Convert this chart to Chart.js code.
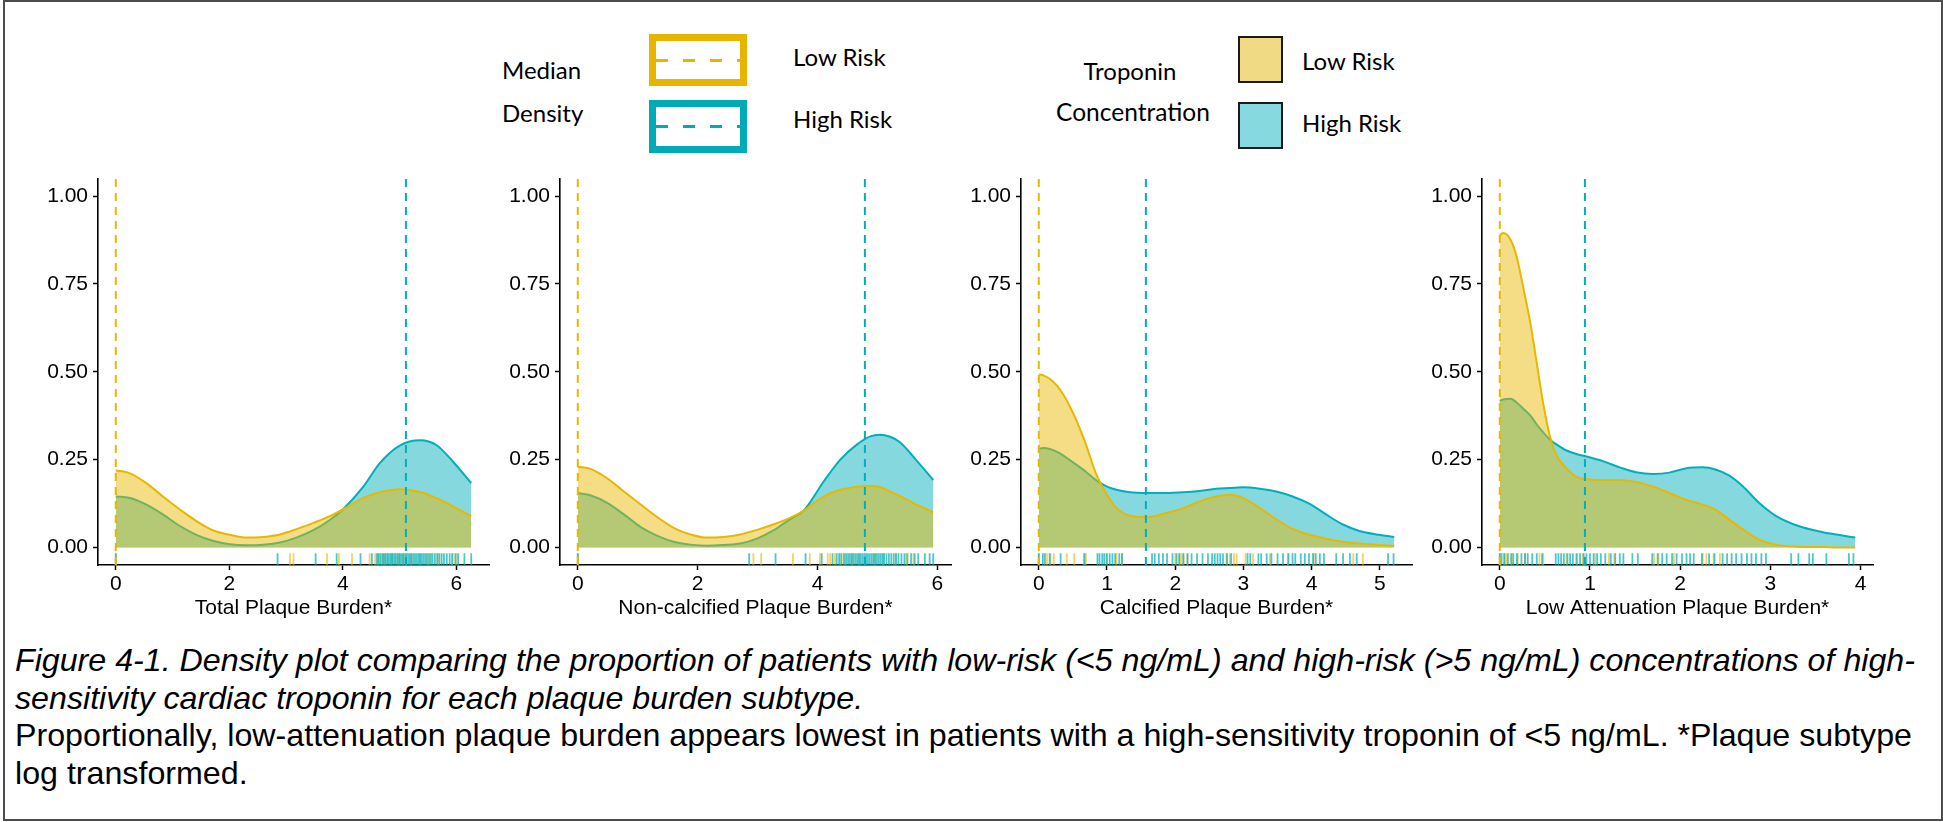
<!DOCTYPE html>
<html>
<head>
<meta charset="utf-8">
<script src="https://cdn.jsdelivr.net/npm/chart.js@4.4.1/dist/chart.umd.min.js"></script>
<style>
  html, body { margin: 0; padding: 0; background: #fff; }
  #page { position: relative; width: 1943px; height: 822px; overflow: hidden; background: #fff; }
  #frame { position: absolute; left: 3px; top: 0; width: 1940px; height: 821px; border: 2px solid #4d4d4d; box-sizing: border-box; }
  .panel { position: absolute; }
  .lg { position: absolute; font-family: Lato, "Open Sans", sans-serif; font-size: 24px; line-height: 30px; color: #000; white-space: nowrap; }
  .box { position: absolute; box-sizing: border-box; }
  .dash { position: absolute; left: 0; right: 0; height: 3px; top: calc(50% - 1.5px); }
  .cap { position: absolute; left: 15px; font-family: "Liberation Sans", Arial, sans-serif; font-size: 32.2px; line-height: 37.5px; white-space: nowrap; color: #000; }
</style>
</head>
<body>
<div id="page">
  <div id="frame"></div>

  <!-- legend: median lines -->
  <div class="lg" style="left:502px; top:55px;">Median</div>
  <div class="lg" style="left:502px; top:98px;">Density</div>
  <div class="box" style="left:649px; top:34px; width:98px; height:52px; border:7px solid #E8B400;">
    <div class="dash" style="background: repeating-linear-gradient(90deg, #E8B400 0 12px, transparent 12px 27px);"></div>
  </div>
  <div class="box" style="left:649px; top:100px; width:98px; height:53px; border:7px solid #00AAB6;">
    <div class="dash" style="background: repeating-linear-gradient(90deg, #00AAB6 0 12px, transparent 12px 27px);"></div>
  </div>
  <div class="lg" style="left:793px; top:42px;">Low Risk</div>
  <div class="lg" style="left:793px; top:104px;">High Risk</div>

  <!-- legend: troponin fills -->
  <div class="lg" style="left:1030px; width:200px; text-align:center; top:56px;">Troponin</div>
  <div class="lg" style="left:1033px; width:200px; text-align:center; top:97px; font-size:24.5px;">Concentration</div>
  <div class="box" style="left:1238px; top:36px; width:45px; height:47px; border:2.5px solid #1a1a1a; background:#F0DA84;"></div>
  <div class="box" style="left:1238px; top:102px; width:45px; height:47px; border:2.5px solid #1a1a1a; background:#86D9DE;"></div>
  <div class="lg" style="left:1302px; top:46px;">Low Risk</div>
  <div class="lg" style="left:1302px; top:108px;">High Risk</div>

  <canvas class="panel" id="c0"></canvas>
  <canvas class="panel" id="c1"></canvas>
  <canvas class="panel" id="c2"></canvas>
  <canvas class="panel" id="c3"></canvas>

  <div class="cap" style="top:642px; font-style:italic;">Figure 4-1. Density plot comparing the proportion of patients with low-risk (&lt;5 ng/mL) and high-risk (&gt;5 ng/mL) concentrations of high-</div>
  <div class="cap" style="top:680px; font-style:italic;">sensitivity cardiac troponin for each plaque burden subtype.</div>
  <div class="cap" style="top:717px;">Proportionally, low-attenuation plaque burden appears lowest in patients with a high-sensitivity troponin of &lt;5 ng/mL. *Plaque subtype</div>
  <div class="cap" style="top:755px;">log transformed.</div>
</div>

<script>
// ---------- shared axis values ----------
const yTicks = [0, 0.25, 0.5, 0.75, 1];
const yRange = [-0.05, 1.05];

// ---------- Total plaque burden ----------
const totalTitle = "Total Plaque Burden*";
const totalTicks = [0, 2, 4, 6];
const totalX    = [0, 0.25, 0.54, 0.83, 1.13, 1.42, 1.71, 2.01, 2.30, 2.60, 2.89, 3.18, 3.48, 3.77, 4.00, 4.36, 4.65, 5.00, 5.36, 5.65, 5.94, 6.26];
const totalLow  = [0.220, 0.211, 0.183, 0.145, 0.108, 0.075, 0.049, 0.036, 0.028, 0.030, 0.037, 0.052, 0.070, 0.089, 0.108, 0.141, 0.157, 0.166, 0.158, 0.140, 0.117, 0.089];
const totalHigh = [0.145, 0.141, 0.122, 0.094, 0.061, 0.036, 0.019, 0.009, 0.006, 0.0075, 0.014, 0.028, 0.049, 0.078, 0.108, 0.173, 0.240, 0.290, 0.305, 0.291, 0.244, 0.183];
const totalMedians = [0, 5.11];
const totalRugLow  = [0, 3.07, 3.13, 3.72, 3.93, 4.16, 4.47, 4.57, 4.62, 4.68, 4.74, 4.85, 4.97, 5.06, 5.20, 5.35, 5.50, 5.68, 5.92, 6.00];
const totalRugHigh = [0, 2.85, 3.52, 3.89, 4.31, 4.51, 4.60, 4.63, 4.66, 4.70, 4.72, 4.75, 4.78, 4.80, 4.83, 4.86, 4.88, 4.91, 4.93, 4.96, 4.99, 5.01, 5.04, 5.07, 5.10, 5.12, 5.15, 5.18, 5.21, 5.24, 5.27, 5.30, 5.33, 5.36, 5.39, 5.42, 5.45, 5.48, 5.52, 5.55, 5.58, 5.62, 5.66, 5.70, 5.74, 5.78, 5.83, 5.88, 5.93, 5.98, 6.03, 6.14, 6.26];

// ---------- Non-calcified plaque burden ----------
const nonCalcTitle = "Non-calcified Plaque Burden*";
const nonCalcTicks = [0, 2, 4, 6];
const nonCalcX    = [0, 0.22, 0.49, 0.77, 1.05, 1.33, 1.60, 1.88, 2.16, 2.43, 2.71, 2.99, 3.27, 3.54, 3.77, 4.10, 4.38, 4.65, 4.88, 5.04, 5.21, 5.37, 5.65, 5.93];
const nonCalcLow  = [0.230, 0.223, 0.197, 0.159, 0.122, 0.086, 0.056, 0.037, 0.028, 0.030, 0.037, 0.050, 0.066, 0.084, 0.105, 0.145, 0.164, 0.173, 0.175, 0.172, 0.159, 0.147, 0.122, 0.100];
const nonCalcHigh = [0.155, 0.148, 0.127, 0.094, 0.058, 0.033, 0.016, 0.008, 0.005, 0.007, 0.011, 0.025, 0.049, 0.080, 0.105, 0.187, 0.250, 0.292, 0.316, 0.321, 0.315, 0.300, 0.248, 0.192];
const nonCalcMedians = [0, 4.79];
const nonCalcRugLow  = [0, 2.93, 3.06, 3.59, 3.87, 4.04, 4.17, 4.21, 4.29, 4.38, 4.46, 4.58, 4.70, 4.95, 5.10, 5.30, 5.48, 5.60];
const nonCalcRugHigh = [0, 2.86, 3.30, 3.80, 4.07, 4.25, 4.32, 4.36, 4.40, 4.44, 4.48, 4.51, 4.54, 4.57, 4.60, 4.63, 4.66, 4.69, 4.72, 4.75, 4.78, 4.81, 4.84, 4.87, 4.90, 4.93, 4.96, 4.99, 5.02, 5.05, 5.08, 5.11, 5.15, 5.19, 5.23, 5.27, 5.31, 5.35, 5.40, 5.45, 5.50, 5.56, 5.62, 5.68, 5.79, 5.87, 5.93];

// ---------- Calcified plaque burden ----------
const calcTitle = "Calcified Plaque Burden*";
const calcTicks = [0, 1, 2, 3, 4, 5];
const calcX    = [0, 0.07, 0.27, 0.46, 0.66, 0.85, 1.00, 1.14, 1.34, 1.58, 1.87, 2.12, 2.36, 2.60, 2.80, 2.99, 3.24, 3.48, 3.72, 3.97, 4.21, 4.45, 4.70, 4.99, 5.21];
const calcLow  = [0.492, 0.490, 0.460, 0.400, 0.310, 0.205, 0.150, 0.112, 0.090, 0.086, 0.098, 0.112, 0.131, 0.145, 0.150, 0.141, 0.112, 0.080, 0.053, 0.036, 0.025, 0.016, 0.011, 0.007, 0.005];
const calcHigh = [0.281, 0.283, 0.272, 0.248, 0.220, 0.190, 0.173, 0.164, 0.157, 0.155, 0.155, 0.157, 0.161, 0.167, 0.169, 0.171, 0.167, 0.159, 0.145, 0.124, 0.094, 0.066, 0.047, 0.036, 0.030];
const calcMedians = [0, 1.57];
const calcRugLow  = [0, 0.12, 0.17, 0.22, 0.41, 0.52, 0.66, 0.69, 0.99, 1.14, 1.22, 2.00, 2.06, 2.09, 2.12, 2.18, 2.75, 2.80, 2.86, 2.90, 3.03, 3.14, 3.39, 3.65, 4.03, 4.61, 4.75];
const calcRugHigh = [0, 0.06, 0.09, 0.16, 0.32, 0.67, 0.86, 0.89, 0.93, 0.96, 1.00, 1.04, 1.08, 1.12, 1.18, 1.22, 1.66, 1.70, 1.76, 1.82, 1.88, 1.96, 2.02, 2.06, 2.12, 2.18, 2.24, 2.32, 2.40, 2.48, 2.54, 2.58, 2.62, 2.66, 2.70, 2.76, 2.82, 3.06, 3.10, 3.22, 3.26, 3.34, 3.41, 3.50, 3.58, 3.66, 3.72, 3.76, 3.84, 3.90, 3.96, 4.02, 4.06, 4.12, 4.18, 4.36, 4.46, 4.56, 4.66, 5.12, 5.20];

// ---------- Low attenuation plaque burden ----------
const lowAttTitle = "Low Attenuation Plaque Burden*";
const lowAttTicks = [0, 1, 2, 3, 4];
const lowAttX    = [0, 0.04, 0.12, 0.19, 0.26, 0.34, 0.41, 0.48, 0.56, 0.63, 0.74, 0.85, 0.96, 1.15, 1.33, 1.51, 1.70, 1.88, 2.06, 2.25, 2.39, 2.54, 2.69, 2.87, 3.06, 3.31, 3.57, 3.75, 3.94];
const lowAttLow  = [0.890, 0.895, 0.876, 0.825, 0.740, 0.637, 0.525, 0.412, 0.312, 0.262, 0.225, 0.201, 0.194, 0.192, 0.192, 0.186, 0.173, 0.155, 0.136, 0.122, 0.108, 0.080, 0.052, 0.023, 0.008, 0.002, 0.001, 0.0, 0.0];
const lowAttHigh = [0.417, 0.421, 0.423, 0.412, 0.395, 0.375, 0.350, 0.328, 0.306, 0.293, 0.276, 0.266, 0.259, 0.245, 0.228, 0.214, 0.209, 0.213, 0.225, 0.228, 0.222, 0.205, 0.175, 0.128, 0.090, 0.061, 0.044, 0.036, 0.028];
const lowAttMedians = [0, 0.944];
const lowAttRugLow  = [0, 0.05, 0.07, 0.12, 0.20, 0.28, 0.44, 0.48, 0.74, 0.86, 0.92, 1.06, 1.21, 1.27, 1.71, 1.76, 1.93, 2.25, 2.29, 2.37, 2.44];
const lowAttRugHigh = [0, 0.02, 0.05, 0.09, 0.13, 0.15, 0.19, 0.24, 0.28, 0.31, 0.36, 0.41, 0.47, 0.62, 0.65, 0.68, 0.71, 0.75, 0.78, 0.81, 0.85, 0.89, 0.93, 0.96, 1.00, 1.04, 1.08, 1.12, 1.17, 1.23, 1.28, 1.33, 1.37, 1.47, 1.53, 1.69, 1.75, 1.80, 1.85, 1.91, 1.96, 2.02, 2.07, 2.11, 2.15, 2.24, 2.32, 2.38, 2.47, 2.52, 2.57, 2.62, 2.68, 2.74, 2.79, 2.84, 2.90, 2.95, 3.23, 3.31, 3.43, 3.47, 3.62, 3.87, 3.92];

// ---------- styling ----------
const LOW_LINE = "#E7B800", HIGH_LINE = "#00AFBB";
const LOW_FILL = "rgba(231,184,0,0.48)", HIGH_FILL = "rgba(0,175,187,0.48)";
const LOW_RUG = "rgba(231,184,0,0.6)", HIGH_RUG = "rgba(0,175,187,0.7)";
const FONT = "'Liberation Sans', Arial, sans-serif";
const TICK_SIZE = 21;

// plot-area geometry (px)
const AREA_TOP = 173, AREA_H = 392, AREA_W = 391;
const AREA_LEFTS = [98, 560, 1021, 1482];
const Y_AXIS_W = 90, X_AXIS_H = 60, PAD_TOP = 12, PAD_RIGHT = 14;

const panels = [
  { title: totalTitle,   ticks: totalTicks,   x: totalX,   low: totalLow,   high: totalHigh,   med: totalMedians,   rugLow: totalRugLow,   rugHigh: totalRugHigh },
  { title: nonCalcTitle, ticks: nonCalcTicks, x: nonCalcX, low: nonCalcLow, high: nonCalcHigh, med: nonCalcMedians, rugLow: nonCalcRugLow, rugHigh: nonCalcRugHigh },
  { title: calcTitle,    ticks: calcTicks,    x: calcX,    low: calcLow,    high: calcHigh,    med: calcMedians,    rugLow: calcRugLow,    rugHigh: calcRugHigh },
  { title: lowAttTitle,  ticks: lowAttTicks,  x: lowAttX,  low: lowAttLow,  high: lowAttHigh,  med: lowAttMedians,  rugLow: lowAttRugLow,  rugHigh: lowAttRugHigh }
];

// rug marks sit along the bottom 3% of the panel
const rugY = yRange[0] + 0.015 * (yRange[1] - yRange[0]);
const rugRadius = 0.015 * AREA_H;

function pts(xs, ys) { return xs.map((x, i) => ({ x: x, y: ys[i] })); }
function rug(xs) { return xs.map(x => ({ x: x, y: rugY })); }
function vline(x) { return [{ x: x, y: yRange[0] }, { x: x, y: yRange[1] }]; }

function density(data, line, fill, order) {
  return { type: 'line', data: data, borderColor: line, backgroundColor: fill, borderWidth: 2,
           fill: 'origin', pointRadius: 0, cubicInterpolationMode: 'monotone', order: order };
}
function rugSet(data, color, order) {
  return { type: 'scatter', data: data, showLine: false, pointStyle: 'line', pointRotation: 90,
           pointRadius: rugRadius, pointBorderWidth: 1.8, pointBorderColor: color,
           pointBackgroundColor: color, order: order };
}
function medianSet(x, color, order) {
  return { type: 'line', data: vline(x), borderColor: color, borderWidth: 2, borderDash: [8, 6],
           pointRadius: 0, fill: false, tension: 0, order: order };
}

panels.forEach((p, i) => {
  const cv = document.getElementById('c' + i);
  const w = Y_AXIS_W + AREA_W + PAD_RIGHT, h = PAD_TOP + AREA_H + X_AXIS_H;
  cv.width = w; cv.height = h;
  cv.style.left = (AREA_LEFTS[i] - Y_AXIS_W) + 'px';
  cv.style.top = (AREA_TOP - PAD_TOP) + 'px';
  cv.style.width = w + 'px'; cv.style.height = h + 'px';

  const extent = p.x[p.x.length - 1];
  new Chart(cv, {
    type: 'line',
    data: {
      datasets: [
        density(pts(p.x, p.high), HIGH_LINE, HIGH_FILL, 10),
        density(pts(p.x, p.low), LOW_LINE, LOW_FILL, 9),
        rugSet(rug(p.rugLow), LOW_RUG, 8),
        rugSet(rug(p.rugHigh), HIGH_RUG, 7),
        medianSet(p.med[0], LOW_LINE, 6),
        medianSet(p.med[1], HIGH_LINE, 5)
      ]
    },
    options: {
      responsive: false,
      animation: false,
      devicePixelRatio: 1,
      events: [],
      layout: { padding: { left: 0, right: PAD_RIGHT, top: PAD_TOP, bottom: 0 } },
      plugins: {
        legend: { display: false },
        tooltip: { enabled: false },
        filler: { drawTime: 'beforeDatasetDraw' }
      },
      scales: {
        x: {
          type: 'linear',
          min: -0.05 * extent,
          max: 1.05 * extent,
          afterFit: s => { s.height = X_AXIS_H; },
          afterBuildTicks: s => { s.ticks = p.ticks.map(v => ({ value: v })); },
          ticks: { callback: v => String(v), color: '#000', font: { family: FONT, size: TICK_SIZE },
                   padding: 2, autoSkip: false, maxRotation: 0 },
          grid: { drawOnChartArea: false, drawTicks: true, tickLength: 5, tickColor: '#000', tickWidth: 1.5 },
          border: { display: true, color: '#000', width: 1.6 },
          title: { display: true, text: p.title, color: '#000', font: { family: FONT, size: TICK_SIZE },
                   padding: { top: 0, bottom: 4 } }
        },
        y: {
          type: 'linear',
          min: yRange[0],
          max: yRange[1],
          afterFit: s => { s.width = Y_AXIS_W; },
          afterBuildTicks: s => { s.ticks = yTicks.map(v => ({ value: v })); },
          ticks: { callback: v => v.toFixed(2), color: '#000', font: { family: FONT, size: TICK_SIZE }, padding: 5 },
          grid: { drawOnChartArea: false, drawTicks: true, tickLength: 5, tickColor: '#000', tickWidth: 1.5 },
          border: { display: true, color: '#000', width: 1.6 }
        }
      }
    }
  });
});
</script>
</body>
</html>
